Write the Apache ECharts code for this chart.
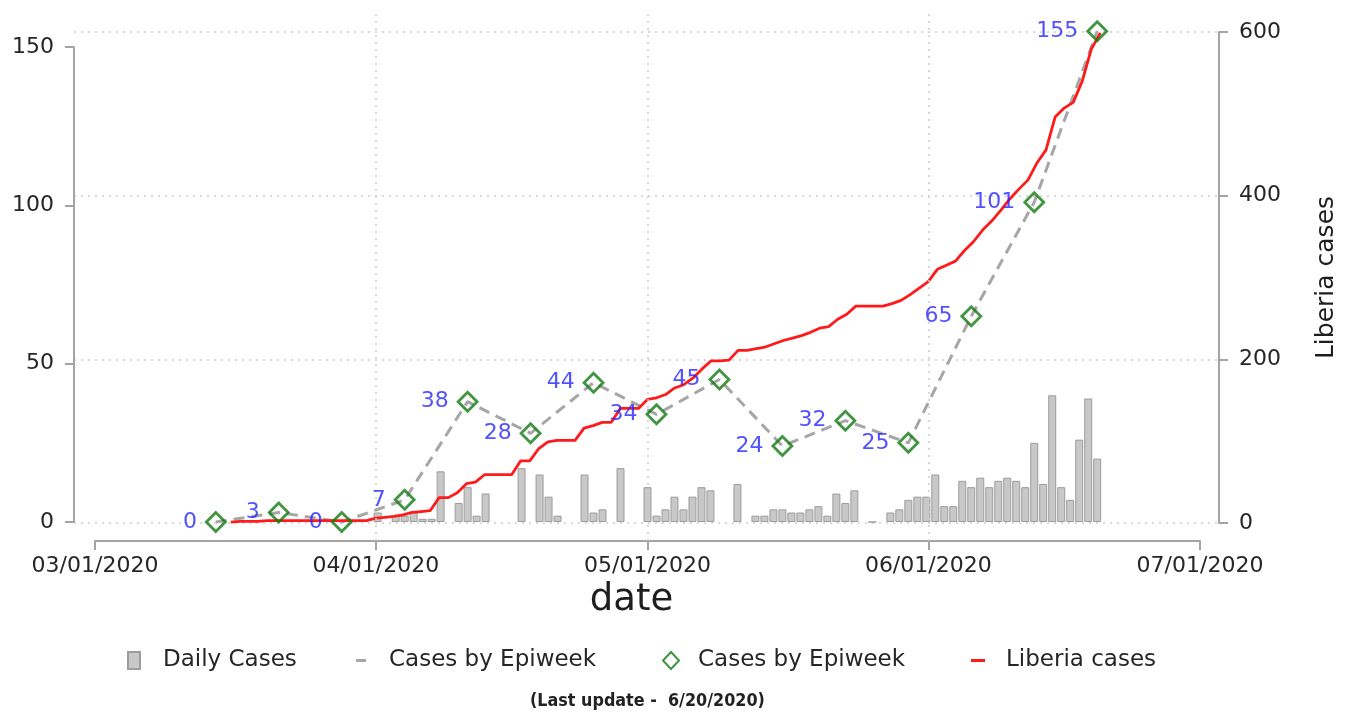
<!DOCTYPE html>
<html>
<head>
<meta charset="utf-8">
<script src="https://cdn.jsdelivr.net/npm/echarts@6/dist/echarts.min.js"></script>
<style>
  html, body { margin: 0; padding: 0; background: #fff; }
  #chart { width: 1352px; height: 713px; }
</style>
</head>
<body>
<div id="chart"></div>
<script>
// Weekly totals (Saturday of each epiweek)
const epiDates = ["2020-03-14", "2020-03-21", "2020-03-28", "2020-04-04", "2020-04-11",
  "2020-04-18", "2020-04-25", "2020-05-02", "2020-05-09", "2020-05-16", "2020-05-23",
  "2020-05-30", "2020-06-06", "2020-06-13", "2020-06-20"];
const epiCases = [0, 3, 0, 7, 38, 28, 44, 34, 45, 24, 32, 25, 65, 101, 155];

// Daily new cases, one entry per day starting 04/01/2020 (null = no bar)
const dailyStart = "2020-04-01";
const dailyCases = [
  3, null, 2, 2, 3, 1, 1, 16, null, 6, 11, 2, 9, null, null, null, 17, null, 15, 8,
  2, null, null, 15, 3, 4, null, 17, null, null,                       // April
  11, 2, 4, 8, 4, 8, 11, 10, null, null, 12, null, 2, 2, 4, 4, 3, 3, 4, 5,
  2, 9, 6, 10, null, 0, null, 3, 4, 7, 8,                              // May
  8, 15, 5, 5, 13, 11, 14, 11, 13, 14, 13, 11, 25, 12, 40, 11, 7, 26, 39, 20 // June
];

// Cumulative Liberia cases, one entry per day starting 03/16/2020
const liberiaStart = "2020-03-16";
const liberiaCases = [
  1, 2, 2, 2, 3, 3, 3, 3, 3, 3, 3, 3, 3, 3, 3, 3,                      // March
  6, 7, 8, 10, 13, 14, 15, 31, 31, 37, 48, 50, 59, 59, 59, 59, 76, 76, 91, 99,
  101, 101, 101, 116, 119, 123, 123, 140, 140, 140,                    // April
  151, 153, 157, 165, 169, 177, 188, 198, 198, 199, 211, 211, 213, 215, 219, 223,
  226, 229, 233, 238, 240, 249, 255, 265, 265, 265, 265, 268, 272, 279, 287, // May
  295, 310, 315, 320, 333, 344, 358, 369, 382, 396, 408, 419, 440, 456, 496, 507,
  514, 540, 579, 599                                                   // June
];

const xTickStart = "2020-03-01";
const xTickEnd = "2020-07-01";
const monthLines = ["2020-04-01", "2020-05-01", "2020-06-01"];
const leftTicks = { min: 0, max: 150, interval: 50 };
const rightTicks = { min: 0, max: 600, interval: 200 };

const LABELS = {
  daily: "Daily Cases",
  epiLine: "Cases by Epiweek",
  epiPts: "Cases by Epiweek",
  liberia: "Liberia cases",
};

const DAY = 86400000;
const FONT = '"DejaVu Sans", sans-serif';
const TEXT = "#262626";
const AXIS = "#a4a4a4";
const GRID = "#cdcdcd";

function ts(s) {
  const [y, m, d] = s.split("-").map(Number);
  return new Date(y, m - 1, d).getTime();
}
function seq(start, values) {
  const t0 = ts(start);
  return values.map((v, i) => {
    const d = new Date(t0);
    d.setDate(d.getDate() + i);
    return [d.getTime(), v];
  });
}
function fmtDate(v) {
  const d = new Date(v);
  const p = (n) => String(n).padStart(2, "0");
  return p(d.getMonth() + 1) + "/" + p(d.getDate()) + "/" + d.getFullYear();
}

// plot region is wider than the tick range (Stata style): pad the data range
const PX_DAY = 1105 / 122;
const X_MIN = ts(xTickStart) - (21 / PX_DAY) * DAY;
const X_MAX = ts(xTickEnd) + (19 / PX_DAY) * DAY;

const chart = echarts.init(document.getElementById("chart"), null, { renderer: "canvas" });

const axisLine = { show: true, lineStyle: { color: AXIS, width: 2 } };
const axisTick = { show: true, length: 9, lineStyle: { color: AXIS, width: 2 } };
const tickLabel = { fontFamily: FONT, fontSize: 22, color: TEXT };
const dotted = { color: GRID, width: 1.5, type: [2, 5] };

function legendFor(name, left, pad, extra) {
  return Object.assign({
    data: [name],
    left: left,
    top: 649,
    padding: 0,
    selectedMode: false,
    formatter: (n) => LABELS[n],
    textStyle: { fontFamily: FONT, fontSize: 23, color: TEXT, padding: [0, 0, 0, pad] },
  }, extra);
}

chart.setOption({
  animation: false,
  backgroundColor: "#fff",
  grid: [
    { left: 74, right: 133, top: 47, bottom: 191, outerBoundsMode: "none" },
    { left: 74, right: 133, top: 32, bottom: 190, outerBoundsMode: "none" },
    { left: 95, right: 152, top: 13, bottom: 172, outerBoundsMode: "none" },
  ],
  xAxis: [
    { gridIndex: 0, type: "time", min: X_MIN, max: X_MAX, show: false },
    { gridIndex: 1, type: "time", min: X_MIN, max: X_MAX, show: false },
    {
      gridIndex: 2,
      type: "time",
      min: ts(xTickStart),
      max: ts(xTickEnd),
      splitNumber: 4,
      minInterval: 28 * DAY,
      axisLine: axisLine,
      axisTick: axisTick,
      axisLabel: Object.assign({ margin: 14, formatter: fmtDate, showMinLabel: true, showMaxLabel: true }, tickLabel),
      splitLine: { show: false },
      name: "date",
      nameLocation: "middle",
      nameGap: 38,
      nameTextStyle: { fontFamily: FONT, fontSize: 37, color: "#1e1e1e", padding: [0, 32, 0, 0] },
    },
  ],
  yAxis: [
    {
      gridIndex: 0,
      type: "value",
      position: "left",
      min: leftTicks.min,
      max: leftTicks.max,
      interval: leftTicks.interval,
      axisLine: axisLine,
      axisTick: axisTick,
      axisLabel: Object.assign({ margin: 20 }, tickLabel),
      splitLine: { show: false },
    },
    {
      gridIndex: 1,
      type: "value",
      position: "right",
      min: rightTicks.min,
      max: rightTicks.max,
      interval: rightTicks.interval,
      axisLine: axisLine,
      axisTick: axisTick,
      axisLabel: Object.assign({ margin: 20 }, tickLabel),
      splitLine: { show: true, lineStyle: dotted },
      name: "Liberia cases",
      nameLocation: "middle",
      nameRotate: 90,
      nameGap: 95,
      nameTextStyle: { fontFamily: FONT, fontSize: 25, color: "#1e1e1e" },
    },
    { gridIndex: 2, type: "value", show: false, min: 0, max: 1 },
  ],
  legend: [
    legendFor("daily", 127, 18, { icon: "rect", itemWidth: 12, itemHeight: 17 }),
    legendFor("epiLine", 356, 18, { icon: "rect", itemWidth: 10, itemHeight: 3,
      itemStyle: { color: "#a6a6a6", borderWidth: 0 } }),
    legendFor("epiPts", 662, 14, { icon: "diamond", itemWidth: 16, itemHeight: 17 }),
    legendFor("liberia", 971, 16, { icon: "rect", itemWidth: 14, itemHeight: 3,
      itemStyle: { color: "#ff1a1a", borderWidth: 0 } }),
  ],
  title: {
    text: "(Last update -  6/20/2020)",
    left: 530,
    top: 692,
    padding: 0,
    textStyle: { fontFamily: '"Liberation Sans Narrow", "DejaVu Sans Condensed", sans-serif',
      fontWeight: "bold", fontSize: 17.8, color: "#222" },
  },
  series: [
    {
      // vertical dotted grid lines at the month ticks
      name: "monthGrid",
      type: "line",
      xAxisIndex: 2,
      yAxisIndex: 2,
      data: [],
      silent: true,
      z: 1,
      markLine: {
        silent: true,
        symbol: "none",
        label: { show: false },
        lineStyle: dotted,
        data: monthLines.map((d) => ({ xAxis: ts(d) })),
      },
    },
    {
      name: "daily",
      type: "bar",
      xAxisIndex: 0,
      yAxisIndex: 0,
      data: seq(dailyStart, dailyCases),
      barWidth: 8,
      itemStyle: { color: "#c8c8c8", borderColor: "#9c9c9c", borderWidth: 1 },
      z: 2,
    },
    {
      name: "epiLine",
      type: "line",
      xAxisIndex: 0,
      yAxisIndex: 0,
      data: epiDates.map((d, i) => [ts(d), epiCases[i]]),
      symbol: "none",
      clip: false,
      itemStyle: { color: "#a6a6a6" },
      lineStyle: { color: "#a6a6a6", width: 3, type: [11, 7] },
      z: 3,
    },
    {
      name: "liberia",
      type: "line",
      xAxisIndex: 1,
      yAxisIndex: 1,
      data: seq(liberiaStart, liberiaCases),
      symbol: "none",
      clip: false,
      itemStyle: { color: "#ff1a1a" },
      lineStyle: { color: "#ff1a1a", width: 2.8 },
      z: 4,
    },
    {
      name: "epiPts",
      type: "scatter",
      xAxisIndex: 0,
      yAxisIndex: 0,
      data: epiDates.map((d, i) => [ts(d), epiCases[i]]),
      symbol: "diamond",
      symbolSize: [19, 19],
      clip: false,
      itemStyle: { color: "rgba(255,255,255,0)", borderColor: "#117a11", borderWidth: 2.8 },
      label: {
        show: true,
        position: "left",
        distance: 8,
        fontFamily: FONT,
        fontSize: 22,
        color: "#2626ff",
        formatter: (p) => p.value[1],
      },
      z: 5,
    },
  ],
});
</script>
</body>
</html>
